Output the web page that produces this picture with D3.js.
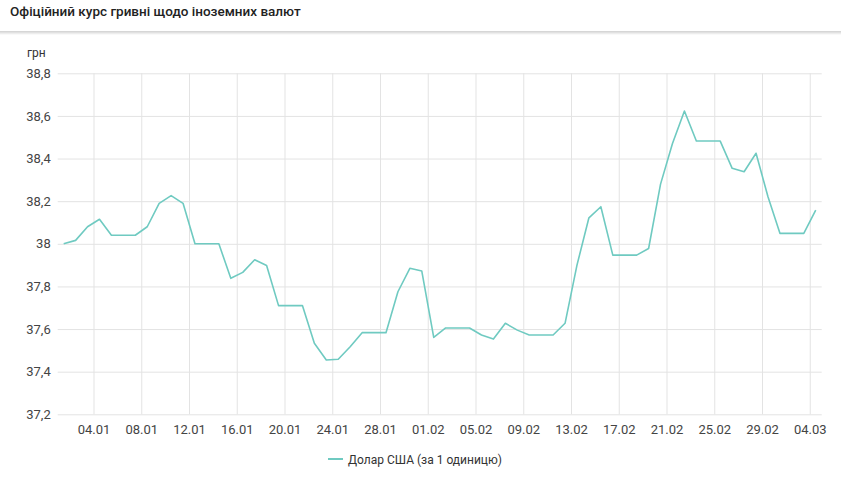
<!DOCTYPE html>
<html>
<head>
<meta charset="utf-8">
<script src="https://cdn.jsdelivr.net/npm/d3@7"></script>
<style>
  html, body { margin: 0; padding: 0; background: #fff; }
  svg { display: block; font-family: Roboto, "Noto Sans", sans-serif; }
</style>
</head>
<body>
<svg id="chart" width="841" height="480"></svg>
<script>
const title = "Офіційний курс гривні щодо іноземних валют";
const unitLabel = "грн";
const seriesName = "Долар США (за 1 одиницю)";

const dates = [
  "2024-01-01","2024-01-02","2024-01-03","2024-01-04","2024-01-05","2024-01-06","2024-01-07","2024-01-08",
  "2024-01-09","2024-01-10","2024-01-11","2024-01-12","2024-01-13","2024-01-14","2024-01-15","2024-01-16",
  "2024-01-17","2024-01-18","2024-01-19","2024-01-20","2024-01-21","2024-01-22","2024-01-23","2024-01-24",
  "2024-01-25","2024-01-26","2024-01-27","2024-01-28","2024-01-29","2024-01-30","2024-01-31","2024-02-01",
  "2024-02-02","2024-02-03","2024-02-04","2024-02-05","2024-02-06","2024-02-07","2024-02-08","2024-02-09",
  "2024-02-10","2024-02-11","2024-02-12","2024-02-13","2024-02-14","2024-02-15","2024-02-16","2024-02-17",
  "2024-02-18","2024-02-19","2024-02-20","2024-02-21","2024-02-22","2024-02-23","2024-02-24","2024-02-25",
  "2024-02-26","2024-02-27","2024-02-28","2024-02-29","2024-03-01","2024-03-02","2024-03-03","2024-03-04"
];

const usdRates = [
  38.000, 38.016, 38.080, 38.115, 38.040, 38.040, 38.040, 38.080,
  38.190, 38.226, 38.190, 38.000, 38.000, 38.000, 37.838, 37.866,
  37.925, 37.898, 37.710, 37.710, 37.710, 37.533, 37.455, 37.458,
  37.517, 37.583, 37.583, 37.583, 37.775, 37.885, 37.872, 37.561,
  37.605, 37.605, 37.605, 37.572, 37.553, 37.627, 37.595, 37.572,
  37.572, 37.572, 37.627, 37.900, 38.122, 38.174, 37.947, 37.947,
  37.947, 37.978, 38.280, 38.471, 38.623, 38.482, 38.482, 38.482,
  38.354, 38.338, 38.425, 38.221, 38.049, 38.049, 38.049, 38.158
];

const xTickLabels = ["04.01","08.01","12.01","16.01","20.01","24.01","28.01","01.02",
                     "05.02","09.02","13.02","17.02","21.02","25.02","29.02","04.03"];
const yTicks = [37.2, 37.4, 37.6, 37.8, 38.0, 38.2, 38.4, 38.6, 38.8];

const svg = d3.select("#chart");
const W = 841, H = 480;
const m = { left: 57.7, right: 821.7, top: 73.3, bottom: 414.3 };

// header
svg.append("text").attr("x", 10).attr("y", 16)
  .attr("font-size", 13.5).attr("font-weight", 500).attr("fill", "#222")
  .text(title);
const defs = svg.append("defs");
const grad = defs.append("linearGradient").attr("id", "shadow").attr("x1", 0).attr("x2", 0).attr("y1", 0).attr("y2", 1);
grad.append("stop").attr("offset", "0%").attr("stop-color", "#cfcfcf");
grad.append("stop").attr("offset", "100%").attr("stop-color", "#ffffff");
svg.append("rect").attr("x", 0).attr("y", 31).attr("width", W).attr("height", 4).attr("fill", "url(#shadow)");
svg.append("line").attr("x1", 0).attr("x2", W).attr("y1", 31.5).attr("y2", 31.5).attr("stroke", "#d6d6d6");

const parse = d3.utcParse("%Y-%m-%d");
const data = dates.map((d, i) => ({ date: parse(d), value: usdRates[i] }));

const x = d3.scaleUtc()
  .domain([parse("2024-01-01"), parse("2024-03-05")])
  .range([m.left, m.right]);
const y = d3.scaleLinear().domain([37.2, 38.8]).range([m.bottom, m.top]);

const parseTick = d3.utcParse("%d.%m.%Y");
const tickDates = xTickLabels.map(t => parseTick(t + ".2024"));

// y grid + labels
const yAxis = svg.append("g").attr("transform", `translate(${m.left},0)`)
  .call(d3.axisLeft(y).tickValues(yTicks).tickSize(-(m.right - m.left)).tickPadding(7)
    .tickFormat(d => (Math.abs(d - Math.round(d)) < 1e-9 ? String(Math.round(d)) : d3.format(".1f")(d).replace(".", ","))));
yAxis.select(".domain").remove();
yAxis.selectAll(".tick line").attr("stroke", "#e3e3e3");
yAxis.selectAll(".tick text").attr("font-size", 13).attr("fill", "#444").attr("font-family", "Roboto, sans-serif");

// x grid + labels
const xAxis = svg.append("g").attr("transform", `translate(0,${m.bottom})`)
  .call(d3.axisBottom(x).tickValues(tickDates).tickSize(-(m.bottom - m.top)).tickPadding(10)
    .tickFormat((d, i) => xTickLabels[i]));
xAxis.select(".domain").remove();
xAxis.selectAll(".tick line").attr("stroke", "#e3e3e3");
xAxis.selectAll(".tick text").attr("font-size", 13).attr("fill", "#444").attr("font-family", "Roboto, sans-serif");

// unit label
svg.append("text").attr("x", 27).attr("y", 57).attr("font-size", 12).attr("fill", "#333").text(unitLabel);

// line
const line = d3.line()
  .x(d => x(d3.utcHour.offset(d.date, 12)))
  .y(d => y(d.value));
svg.append("path").datum(data)
  .attr("fill", "none").attr("stroke", "#6fcac1").attr("stroke-width", 1.6)
  .attr("stroke-linejoin", "round")
  .attr("d", line);

// legend
const lg = svg.append("g").attr("transform", "translate(328,459)");
lg.append("line").attr("x1", 0).attr("x2", 15).attr("y1", 0).attr("y2", 0)
  .attr("stroke", "#6fcac1").attr("stroke-width", 2);
lg.append("text").attr("x", 20).attr("y", 4.5).attr("font-size", 12).attr("fill", "#333").text(seriesName);
</script>
</body>
</html>
